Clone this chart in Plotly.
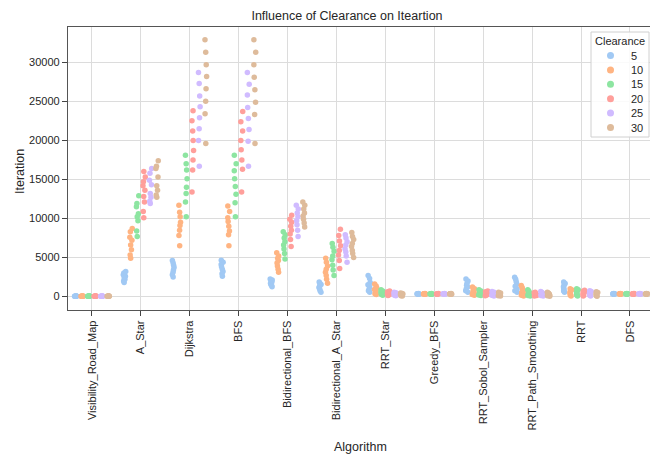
import plotly.graph_objects as go

algorithms = ["Visibility_Road_Map", "A_Star", "Dijkstra", "BFS", "Bidirectional_BFS",
              "Bidirectional_A_Star", "RRT_Star", "Greedy_BFS", "RRT_Sobol_Sampler",
              "RRT_Path_Smoothing", "RRT", "DFS"]
clearances = [5, 10, 15, 20, 25, 30]

# Iterations per algorithm (same order as `algorithms`) for each clearance
iter_c5 = [
    [30, 40, 50, 25, 60, 35, 45, 55],
    [1800, 2000, 2200, 2400, 2600, 2800, 3000, 3200],
    [2500, 2800, 3100, 3400, 3700, 4000, 4300, 4600],
    [2600, 2900, 3200, 3500, 3800, 4100, 4400, 4650],
    [1250, 1400, 1550, 1700, 1850, 1950, 2100, 2250],
    [550, 750, 950, 1150, 1350, 1550, 1700, 1850],
    [2700, 2300, 1800, 1500, 1200, 950, 750, 550],
    [380, 360, 350, 340, 330, 320, 310, 300],
    [2250, 2000, 1700, 1450, 1200, 950, 750, 550],
    [2450, 2200, 1900, 1600, 1300, 1000, 750, 550],
    [1850, 1650, 1450, 1250, 1050, 850, 700, 550],
    [370, 360, 350, 340, 330, 320, 310, 300],
]
iter_c10 = [
    [30, 40, 50, 25, 60, 35, 45, 55],
    [8700, 8300, 7600, 7200, 6600, 6000, 5300, 4900],
    [11700, 10800, 10200, 9500, 9100, 8500, 7800, 6500],
    [11600, 10900, 10100, 9600, 9000, 8400, 7900, 6500],
    [5600, 5200, 4900, 4600, 4300, 3900, 3500, 3100],
    [4900, 4400, 3900, 3500, 3100, 2700, 2200, 1700],
    [1600, 1350, 1100, 900, 700, 500, 350, 250],
    [380, 360, 350, 340, 330, 320, 310, 300],
    [1200, 1000, 850, 700, 550, 400, 250, 150],
    [1400, 1150, 900, 700, 500, 300, 150, 50],
    [980, 850, 700, 550, 420, 300, 180, 60],
    [370, 360, 350, 340, 330, 320, 310, 300],
]
iter_c15 = [
    [30, 40, 50, 25, 60, 35, 45, 55],
    [12900, 11900, 11500, 10600, 10200, 9700, 8400, 7700],
    [18100, 17000, 16200, 15100, 14000, 13200, 12100, 10200],
    [18100, 17000, 16100, 15100, 14100, 13100, 12000, 10200],
    [8300, 7900, 7500, 7000, 6600, 6100, 5500, 4800],
    [6800, 6300, 5800, 5200, 4700, 4000, 3400, 2700],
    [850, 700, 600, 500, 400, 350, 250, 150],
    [380, 360, 350, 340, 330, 320, 310, 300],
    [850, 700, 600, 500, 400, 300, 200, 130],
    [850, 700, 550, 430, 330, 230, 130, 50],
    [980, 850, 700, 560, 430, 300, 180, 60],
    [370, 360, 350, 340, 330, 320, 310, 300],
]
iter_c20 = [
    [30, 40, 50, 25, 60, 35, 45, 55],
    [16000, 15300, 14700, 14200, 13600, 12800, 12100, 10900, 10100],
    [23800, 22500, 21200, 20000, 18700, 17500, 16200, 13400],
    [23700, 22400, 21200, 20000, 18800, 17500, 16300, 13400],
    [10400, 9900, 9500, 9000, 8500, 8000, 7300, 6400],
    [8600, 7800, 7100, 6500, 5900, 5300, 4600, 3600],
    [700, 600, 500, 400, 330, 270, 200, 120],
    [380, 360, 350, 340, 330, 320, 310, 300],
    [700, 600, 500, 400, 300, 220, 150, 80],
    [550, 470, 400, 330, 260, 190, 120, 50],
    [800, 680, 560, 450, 350, 250, 150, 60],
    [370, 360, 350, 340, 330, 320, 310, 300],
]
iter_c25 = [
    [30, 40, 50, 25, 60, 35, 45, 55],
    [16400, 15800, 14900, 14300, 13200, 12700, 12200, 11900],
    [28700, 27300, 25700, 24300, 22900, 21500, 20000, 16700],
    [28700, 27200, 25800, 24200, 22800, 21400, 19900, 16700],
    [11700, 11200, 10700, 10200, 9700, 9200, 8500, 7700],
    [7900, 7500, 7000, 6600, 6100, 5700, 5200, 4400],
    [550, 480, 400, 330, 270, 200, 150, 100],
    [380, 360, 350, 340, 330, 320, 310, 300],
    [650, 550, 450, 380, 300, 220, 150, 60],
    [650, 540, 450, 370, 290, 210, 130, 50],
    [750, 640, 530, 430, 330, 240, 150, 60],
    [370, 360, 350, 340, 330, 320, 310, 300],
]
iter_c30 = [
    [30, 40, 50, 25, 60, 35, 45, 55],
    [17400, 16700, 16400, 15300, 14200, 13600, 13000, 12700],
    [32900, 31300, 29700, 28200, 26600, 25000, 23400, 19600],
    [32900, 31300, 29700, 28100, 26500, 24900, 23300, 19600],
    [12100, 11700, 11200, 10700, 10300, 9900, 9400, 8900],
    [8200, 7700, 7300, 6800, 6400, 5900, 5500, 5000],
    [450, 380, 320, 260, 200, 150, 100, 60],
    [380, 360, 350, 340, 330, 320, 310, 300],
    [550, 450, 380, 300, 220, 160, 100, 50],
    [550, 450, 370, 300, 230, 160, 100, 40],
    [600, 500, 420, 340, 260, 180, 110, 40],
    [370, 360, 350, 340, 330, 320, 310, 300],
]
series = [iter_c5, iter_c10, iter_c15, iter_c20, iter_c25, iter_c30]
colors = ["#a1c9f4", "#ffb482", "#8de5a1", "#ff9f9b", "#d0bbff", "#debb9b"]

FONT = "Liberation Sans, Arial, sans-serif"
TXT = "#262626"

W, H = 650, 455
L, R, T, B = 68, 0, 27, 145
PW, PH = W - L - R, H - T - B


def px(x):
    return (x - L) / PW


def py(y):
    return 1 - (y - T) / PH


fig = go.Figure()
for c, vals, col in zip(clearances, series, colors):
    xs, ys = [], []
    for alg, v in zip(algorithms, vals):
        xs += [alg] * len(v)
        ys += v
    fig.add_trace(go.Box(
        x=xs, y=ys, name=str(c), boxpoints="all", jitter=0.4, pointpos=0,
        marker=dict(color=col, size=5.5, line=dict(width=0)),
        line=dict(width=0, color="rgba(0,0,0,0)"), fillcolor="rgba(0,0,0,0)",
        showlegend=False, offsetgroup=str(c), hoveron="points",
    ))

# Legend (drawn manually for compact spacing, as in the reference)
shapes = [dict(type="rect", xref="paper", yref="paper",
               x0=px(591), x1=px(649), y0=py(137), y1=py(32),
               line=dict(color="#d0d0d0", width=1), fillcolor="rgba(255,255,255,0.85)",
               layer="above")]
annotations = [dict(text="Clearance", xref="paper", yref="paper", x=px(620), y=py(41),
                    xanchor="center", yanchor="middle", showarrow=False,
                    font=dict(size=11, color=TXT))]
for i, (c, col) in enumerate(zip(clearances, colors)):
    yc = 55.5 + i * 14.4
    shapes.append(dict(type="circle", xref="paper", yref="paper",
                       x0=px(607), x1=px(614), y0=py(yc + 3.5), y1=py(yc - 3.5),
                       line=dict(width=0), fillcolor=col, layer="above"))
    annotations.append(dict(text=str(c), xref="paper", yref="paper", x=px(628.5), y=py(yc),
                            xanchor="left", yanchor="middle", showarrow=False,
                            font=dict(size=11, color=TXT)))

# Axis titles
annotations.append(dict(text="Algorithm", xref="paper", yref="paper", x=px(360), y=py(447),
                        xanchor="center", yanchor="middle", showarrow=False,
                        font=dict(size=12.5, color=TXT)))
annotations.append(dict(text="Iteration", xref="paper", yref="paper", x=px(20), y=py(172),
                        xanchor="center", yanchor="middle", showarrow=False, textangle=-90,
                        font=dict(size=12.5, color=TXT)))

fig.update_layout(
    width=W, height=H,
    margin=dict(l=L, r=R, t=T, b=B),
    paper_bgcolor="white", plot_bgcolor="white",
    font=dict(family=FONT, color=TXT, size=11),
    boxmode="group", boxgap=0.2, boxgroupgap=0,
    showlegend=False,
    shapes=shapes, annotations=annotations,
    title=dict(text="Influence of Clearance on Iteartion", x=347 / W, xanchor="center",
               y=1 - 16 / H, yanchor="middle", font=dict(size=12.5, color=TXT)),
    xaxis=dict(
        type="category", categoryorder="array", categoryarray=algorithms,
        range=[-0.49, 11.41], automargin=False,
        showgrid=True, gridcolor="#dcdcdc", gridwidth=1,
        ticks="outside", ticklen=5, tickwidth=1.2, tickcolor="#444",
        tickangle=-90, tickfont=dict(size=11),
        showline=True, linecolor="#555", linewidth=1.3, mirror=True,
        zeroline=False,
    ),
    yaxis=dict(
        range=[-1731, 34526], dtick=5000, tick0=0, tickformat="d", automargin=False,
        showgrid=True, gridcolor="#dcdcdc", gridwidth=1,
        ticks="outside", ticklen=5, tickwidth=1.2, tickcolor="#444",
        tickfont=dict(size=11),
        showline=True, linecolor="#555", linewidth=1.3,
        zeroline=False,
    ),
)

fig.write_html(
    "out.html",
    config={"displayModeBar": False},
    post_script="document.body.style.margin='0px';document.body.style.overflow='hidden';",
)
